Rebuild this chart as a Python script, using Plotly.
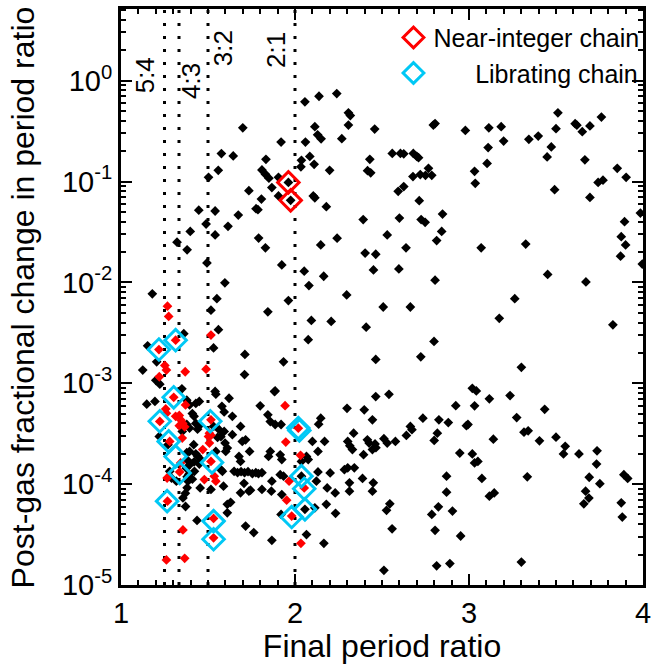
import plotly.graph_objects as go

# ---------------- data ----------------
black_x = [1.70, 1.577, 1.645, 1.559, 1.503, 1.92, 1.833, 1.81, 1.83, 1.85, 1.867, 1.905, 1.905, 1.735, 1.807, 1.962, 1.975,
           2.057, 2.138, 2.24, 2.307, 2.318, 2.307, 2.114, 2.13, 2.15, 2.06, 2.269, 2.458, 2.085, 2.037, 2.034, 2.11, 2.199,
           2.43, 2.417, 2.435, 2.105, 2.114,
           2.795, 2.805, 2.979, 3.114, 3.185, 3.199, 3.344, 3.398, 3.511, 3.50, 3.61, 3.62, 3.651, 3.695, 3.761, 3.473, 3.449,
           3.666, 3.11, 3.104, 2.559, 2.606, 2.625, 2.68, 2.70, 2.71, 2.678, 2.72, 2.75, 2.786, 2.767, 2.593, 2.625, 2.714,
           3.032, 3.036, 3.492, 3.695, 3.742, 3.77, 3.852, 3.903,
           2.18, 1.447, 1.541, 1.674, 1.776, 1.787, 1.489, 1.615, 1.398, 1.541, 1.322, 1.38, 1.791, 1.83, 2.148, 2.242, 2.392,
           2.403, 2.464, 2.451, 1.494, 1.924, 2.053, 2.165, 2.08, 1.597, 1.18, 1.551, 1.517, 1.962, 1.844, 2.297, 2.094, 2.208,
           2.409, 1.56, 2.076, 1.532, 1.712, 1.934, 1.71, 2.464, 1.125, 1.153, 1.361, 1.205, 1.20, 1.223, 1.35, 1.541, 1.886,
           2.60, 2.725, 2.748, 2.848, 2.843, 2.814, 2.53, 2.638, 2.597, 2.805, 3.07, 3.326, 3.452, 3.672, 3.263, 3.174, 3.827,
           2.507, 2.663, 2.799, 2.723, 3.301, 3.019, 3.042, 3.894, 3.985, 3.875, 3.90, 3.871, 3.996,
           1.148, 1.195, 1.378, 1.394, 1.41, 1.42, 1.43, 1.45, 1.378, 1.394, 1.43, 1.44, 1.45, 1.418, 1.394, 1.378, 1.38, 1.40,
           1.42, 1.43, 1.44, 1.46, 1.45, 1.375, 1.39, 1.41, 1.38, 1.422, 1.385, 1.38, 1.37, 1.356, 1.371, 1.437, 1.455, 1.28,
           1.29, 1.318, 1.22, 1.27, 1.352,
           1.532, 1.564, 1.593, 1.545, 1.621, 1.58, 1.593, 1.64, 1.555, 1.574, 1.598, 1.545, 1.602, 1.611, 1.574, 1.583, 1.589,
           1.517, 1.611, 1.611, 1.63, 1.687, 1.697, 1.716, 1.739, 1.80, 1.844, 1.858, 1.882, 1.886, 1.92, 1.858, 1.848, 1.915,
           1.924, 1.678, 1.687, 1.64,
           1.65, 1.67, 1.69, 1.71, 1.73, 1.755, 1.775, 1.79, 1.81,
           1.707, 1.735, 1.744, 1.687, 1.81, 1.867, 1.864, 1.915, 1.934, 1.924, 1.92, 1.716, 1.763, 1.867,
           2.037, 2.066, 2.076, 2.10, 2.136, 2.148, 2.132, 2.132, 2.17, 2.202, 2.18, 2.185, 2.231, 2.233, 2.166, 2.123, 2.114,
           2.066, 2.284, 2.303, 2.299, 2.398, 2.445, 2.303, 2.315, 2.33, 2.337, 2.416, 2.426, 2.445, 2.394, 2.341, 2.388,
           2.313, 2.313, 2.45, 2.445, 2.057, 2.037,
           2.464, 2.54, 2.46, 2.465, 2.511, 2.53, 2.577, 2.64, 2.663, 2.672, 2.735, 2.80, 2.818, 2.827, 2.881, 2.924, 2.985,
           2.994, 3.032, 3.117, 3.236, 2.947, 3.019, 3.032, 3.051, 3.074, 3.14, 3.117, 3.145, 2.871, 2.871, 2.824, 2.786,
           2.805, 2.905, 2.952, 2.814, 2.89, 2.511, 2.526, 2.545, 2.558, 3.274, 3.316, 3.34, 3.335, 3.301, 3.405, 3.435,
           3.50, 3.553, 3.543, 3.632, 3.736, 3.733, 3.691, 3.752, 3.67, 3.689, 3.66, 3.89, 3.912, 3.875, 3.881]

black_y = [0.341, 0.189, 0.179, 0.129, 0.110, 0.246, 0.166, 0.130, 0.118, 0.108, 0.087, 0.110, 0.072, 0.081, 0.067, 0.098, 0.065,
           0.616, 0.70, 0.745, 0.48, 0.45, 0.363, 0.349, 0.29, 0.265, 0.246, 0.266, 0.331, 0.177, 0.162, 0.14, 0.148, 0.129,
           0.166, 0.128, 0.122, 0.072, 0.069,
           0.363, 0.375, 0.321, 0.341, 0.349, 0.252, 0.262, 0.282, 0.48, 0.334, 0.374, 0.362, 0.312, 0.355, 0.435, 0.22, 0.175,
           0.164, 0.217, 0.151, 0.19, 0.19, 0.188, 0.19, 0.177, 0.172, 0.112, 0.117, 0.115, 0.115, 0.135, 0.080, 0.089, 0.0645,
           0.126, 0.096, 0.083, 0.0695, 0.098, 0.103, 0.135, 0.110,
           0.0563, 0.052, 0.051, 0.0465, 0.0537, 0.0525, 0.0379, 0.036, 0.032, 0.0295, 0.025, 0.021, 0.0275, 0.022, 0.0235,
           0.0274, 0.0419, 0.0195, 0.019, 0.0133, 0.0156, 0.0149, 0.0129, 0.0115, 0.0093, 0.0099, 0.0077, 0.0069, 0.0053,
           0.0066, 0.0051, 0.0075, 0.0042, 0.0041, 0.0036, 0.0034, 0.0027, 0.00224, 0.00193, 0.00163, 0.00122, 0.00172,
           0.00135, 0.00235, 0.0031, 0.00163, 0.00107, 0.00098, 0.00088, 0.00083, 0.00084,
           0.0434, 0.0419, 0.0394, 0.0475, 0.032, 0.026, 0.0295, 0.022, 0.0136, 0.0105, 0.022, 0.024, 0.012, 0.0101, 0.0069,
           0.0044, 0.0038, 0.0057, 0.0057, 0.0026, 0.00183, 0.00144, 0.00089, 0.00084, 0.040, 0.0487, 0.0284, 0.0235, 0.0182,
           0.0152,
           0.00062, 0.00066, 0.00068, 0.00061, 0.0005, 0.00047, 0.00063, 0.00066, 0.00039, 0.00036, 0.0004, 0.00035, 0.00038,
           0.000246, 0.000211, 0.000205, 0.000174, 0.000159, 0.000166, 0.0002, 0.00019, 0.000174, 0.000158, 0.000144,
           0.000125, 0.000112, 0.000118, 0.000134, 0.000107, 0.000092, 0.000081, 0.000073, 0.00006, 0.0000437, 0.0000917,
           0.000134, 0.000115, 0.000107, 0.000297, 0.000246, 0.000333,
           0.000373, 0.000346, 0.000333, 0.00078, 0.00071, 0.00059, 0.00052, 0.00047, 0.00029, 0.000295, 0.000255, 0.000211,
           0.000211, 0.000228, 0.000139, 0.000134, 0.0000955, 0.0000885, 0.000052, 0.000063, 0.000066, 0.000373, 0.000265,
           0.000275, 0.000211, 0.000597, 0.000486, 0.000417, 0.000826, 0.00039, 0.00039, 0.000211, 0.000188, 0.000195,
           0.000175, 0.000188, 0.000168, 0.000309,
           0.000134, 0.00013, 0.000133, 0.00013, 0.000133, 0.000127, 0.00013, 0.000127, 0.00013,
           0.000102, 0.000085, 0.000087, 0.000082, 0.0000885, 0.000107, 0.0000851, 0.000124, 0.00012, 0.0000789, 0.0000501,
           0.0000384, 0.0000331, 0.0000277,
           0.000168, 0.000188, 0.000175, 0.000265, 0.000393, 0.00045, 0.000211, 0.000132, 0.000265, 0.000129, 0.000063,
           0.0000917, 0.0000818, 0.0000513, 0.0000259, 0.000107, 0.0000582, 0.0000316, 0.000139, 0.000145, 0.000565,
           0.000545, 0.000434, 0.000265, 0.00024, 0.00022, 0.00032, 0.000275, 0.000255, 0.00022, 0.000196, 0.000145,
           0.000114, 0.000103, 0.0000851, 0.000103, 0.0000851, 0.0000562, 0.00012,
           0.000738, 0.000777, 0.00025, 0.00023, 0.000282, 0.000255, 0.000265, 0.000304, 0.000373, 0.000346, 0.00045,
           0.000271, 0.00032, 0.000434, 0.000408, 0.0006, 0.00038, 0.00039, 0.000597, 0.0007, 0.000755, 0.000203, 0.000199,
           0.000162, 0.000168, 0.000114, 0.000279, 0.0000759, 0.0000818, 0.00012, 0.0000832, 0.0000595, 0.0000501,
           0.0000348, 0.000054, 0.0000306, 0.0000155, 0.0000163, 0.000014, 0.000055, 0.0000638, 0.0000361, 0.000457,
           0.000327, 0.000338, 0.000118, 0.0000169, 0.000269, 0.000552, 0.000292, 0.000237, 0.000199, 0.000199, 0.000214,
           0.000158, 0.000117, 0.000101, 0.0000851, 0.0000727, 0.0000638, 0.000124, 0.000114, 0.0000652, 0.0000471]

red_x = [1.267, 1.274, 1.517, 1.218, 1.314, 1.252, 1.261, 1.22, 1.369, 1.489,
         1.303, 1.371, 1.257, 1.261, 1.314, 1.335, 1.345, 1.335, 1.355, 1.366, 1.223, 1.28, 1.352, 1.343, 1.337, 1.265,
         1.267, 1.356, 1.366, 1.261, 1.508, 1.503, 1.517, 1.508, 1.47, 1.517, 1.479, 1.536, 1.545, 1.532, 1.532, 1.517,
         2.019, 1.947, 2.032, 1.966, 1.952, 1.981, 2.053, 2.034, 1.943]
red_y = [0.0058, 0.0046, 0.0030, 0.00216, 0.00267, 0.0015, 0.00135, 0.00116, 0.0013, 0.00138,
         0.000726, 0.00061, 0.000557, 0.000504, 0.00047, 0.00048, 0.00043, 0.00038, 0.0004, 0.00037, 0.000418, 0.000265,
         0.000286, 0.000162, 0.000132, 0.000115, 0.0000678, 0.0000351, 0.0000184, 0.0000177, 0.00032, 0.000297, 0.000305,
         0.000255, 0.00022, 0.000168, 0.000111, 0.00012, 0.000107, 0.0000457, 0.0000294, 0.000434,
         0.000359, 0.000261, 0.000193, 0.000107, 0.0000693, 0.0000482, 0.0000917, 0.0000259, 0.0006]

near_integer_x = [1.962, 1.975]
near_integer_y = [0.098, 0.065]

librating_x = [1.218, 1.314, 1.303, 1.223, 1.274, 1.314, 1.337, 1.265, 1.513, 1.523, 1.532, 1.532,
               2.019, 2.025, 2.037, 2.053, 2.057, 1.981]
librating_y = [0.00216, 0.00267, 0.000726, 0.00042, 0.000265, 0.000188, 0.000129, 0.0000678, 0.00042, 0.000164,
               0.000043, 0.0000284, 0.00036, 0.00034, 0.00012, 0.00009, 0.0000562, 0.0000472]

resonance_x = [1.25, 4 / 3, 1.5, 2.0]
resonance_labels = ["5:4", "4:3", "3:2", "2:1"]

x_range = [1, 4]
y_range_log = [-5, 0.71]
x_ticks = [1, 2, 3, 4]
y_ticks = [1e-5, 1e-4, 1e-3, 1e-2, 1e-1, 1e0]
y_ticktext = ["10<sup>-5</sup>", "10<sup>-4</sup>", "10<sup>-3</sup>", "10<sup>-2</sup>",
              "10<sup>-1</sup>", "10<sup>0</sup>"]
y_minor_ticks = [m * 10.0 ** e for e in range(-5, 1) for m in range(2, 10)]

# ---------------- figure ----------------
FONT = "Liberation Sans, Arial, Helvetica, sans-serif"
CYAN = "rgb(0,200,245)"

fig = go.Figure()

# dotted resonance lines (as line traces spanning the y range)
y_span = [10 ** y_range_log[0], 10 ** y_range_log[1]]
for xv in resonance_x:
    fig.add_trace(go.Scatter(x=[xv, xv], y=y_span, mode="lines", showlegend=False, hoverinfo="skip",
                             line=dict(color="black", width=3, dash="3px,10px")))

fig.add_trace(go.Scatter(x=black_x, y=black_y, mode="markers", showlegend=False,
                         marker=dict(symbol="diamond", size=7.5, color="black", line=dict(width=0))))
fig.add_trace(go.Scatter(x=red_x, y=red_y, mode="markers", showlegend=False,
                         marker=dict(symbol="diamond", size=7.5, color="red", line=dict(width=0))))
fig.add_trace(go.Scatter(x=near_integer_x, y=near_integer_y, mode="markers", name="Near-integer chain",
                         marker=dict(symbol="diamond-open", size=16.5, color="red", line=dict(width=3, color="red"))))
fig.add_trace(go.Scatter(x=librating_x, y=librating_y, mode="markers",
                         name="\u00a0" * 6 + "Librating chain",
                         marker=dict(symbol="diamond-open", size=16.5, color=CYAN, line=dict(width=3, color=CYAN))))

label_pos = {"5:4": (-20, 0.884), "4:3": (12, 0.875), "3:2": (15, 0.932), "2:1": (-19, 0.929)}
for xv, lab in zip(resonance_x, resonance_labels):
    dx, py = label_pos[lab]
    fig.add_annotation(x=xv, y=py, xref="x", yref="paper", text=lab, textangle=-90, showarrow=False,
                       xanchor="center", yanchor="middle",
                       xshift=dx, font=dict(family=FONT, size=26, color="black"))

fig.add_annotation(x=-0.187, y=0.5, xref="paper", yref="paper", text="Post-gas fractional change in period ratio",
                   textangle=-90, showarrow=False, xanchor="center", yanchor="middle",
                   font=dict(family=FONT, size=32, color="black"))

fig.update_xaxes(range=x_range, tickmode="array", tickvals=x_ticks, ticktext=[str(v) for v in x_ticks],
                 showline=True, linewidth=3, linecolor="black", mirror="allticks",
                 ticks="inside", ticklen=11, tickwidth=2, tickcolor="black",
                 showgrid=False, zeroline=False, ticklabeloverflow="allow",
                 tickfont=dict(family=FONT, size=29, color="black"),
                 minor=dict(ticks="inside", dtick=0.1, ticklen=5, tickwidth=2, tickcolor="black", showgrid=False),
                 title=dict(text="Final period ratio", font=dict(family=FONT, size=32, color="black"), standoff=2))
fig.update_yaxes(type="log", range=y_range_log, tickmode="array", tickvals=y_ticks, ticktext=y_ticktext,
                 showline=True, linewidth=3, linecolor="black", mirror="allticks",
                 ticks="inside", ticklen=11, tickwidth=2, tickcolor="black",
                 showgrid=False, zeroline=False, ticklabeloverflow="allow",
                 tickfont=dict(family=FONT, size=29, color="black"),
                 minor=dict(ticks="inside", tickmode="array", tickvals=y_minor_ticks, ticklen=5, tickwidth=2,
                            tickcolor="black", showgrid=False))

fig.update_layout(width=657, height=664, margin=dict(l=121, r=8, t=6, b=79),
                  plot_bgcolor="white", paper_bgcolor="white",
                  font=dict(family=FONT, color="black"),
                  legend=dict(x=0.522, y=0.99, xanchor="left", yanchor="top", bgcolor="rgba(0,0,0,0)",
                              font=dict(family=FONT, size=25, color="black"), itemsizing="trace",
                              borderwidth=0))

fig.write_html("out.html")
